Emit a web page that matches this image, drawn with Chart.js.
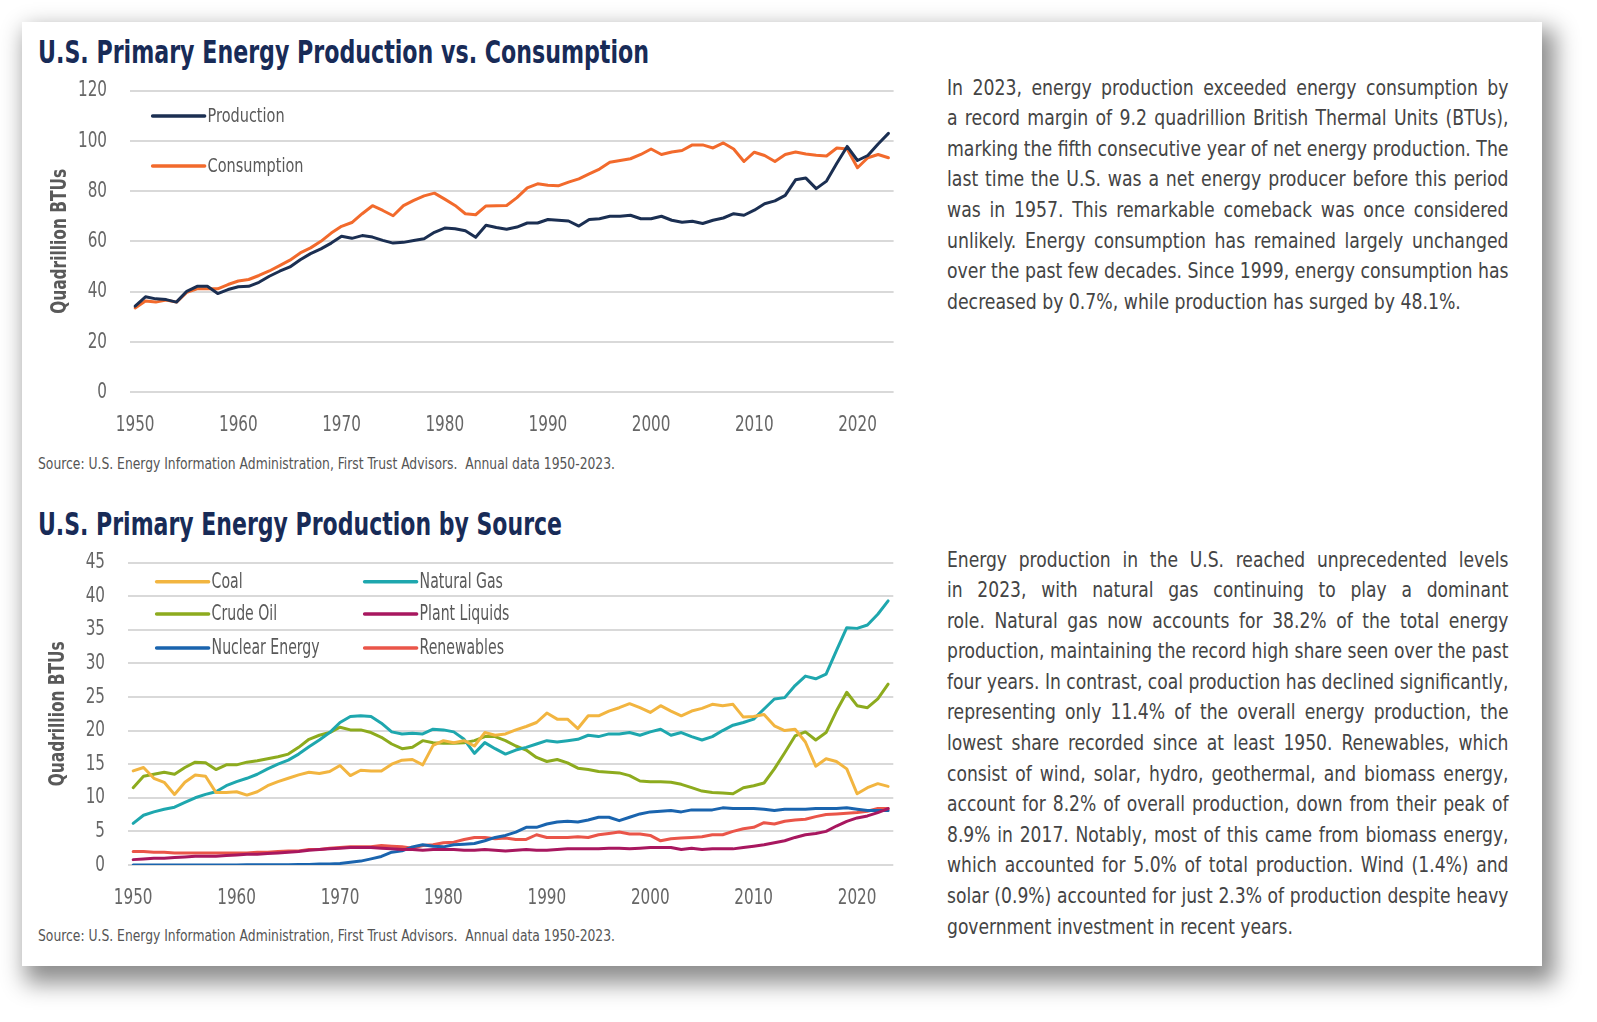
<!DOCTYPE html>
<html>
<head>
<meta charset="utf-8">
<title>U.S. Primary Energy Production</title>
<script src="https://cdn.jsdelivr.net/npm/chart.js@4.4.1/dist/chart.umd.min.js"></script>
<style>
  html, body { margin: 0; padding: 0; background: #fff; }
  body {
    width: 1597px; height: 1022px; position: relative; overflow: hidden;
    font-family: 'Liberation Sans Narrow', 'Arial Narrow', 'DejaVu Sans Condensed', 'Roboto Condensed', 'Open Sans', sans-serif;
    font-stretch: condensed;
  }
  .card {
    position: absolute; left: 22px; top: 22px; width: 1520px; height: 944px;
    background: #fff;
    box-shadow: 8px 12px 22px 5px rgba(0, 0, 0, 0.45);
  }
  .fit { position: absolute; white-space: nowrap; transform-origin: 0 0; }
  .title { font-size: 32px; line-height: 32px; font-weight: bold; color: #182b57; }
  .source { font-size: 15px; line-height: 15px; color: #555; }
  .para { position: absolute; color: #444; font-size: 22px; }
  .para .ln { height: 30.6px; line-height: 30.6px; white-space: nowrap; transform-origin: 0 0; }
  canvas { position: absolute; }
</style>
</head>
<body>
<div class="card"></div>

<span class="fit title" data-w="611" style="left:38px; top:35.6px">U.S. Primary Energy Production vs. Consumption</span>
<span class="fit source" data-w="577" style="left:38px; top:457.4px">Source: U.S. Energy Information Administration, First Trust Advisors.&nbsp; Annual data 1950-2023.</span>
<span class="fit title" data-w="524" style="left:38px; top:508.4px">U.S. Primary Energy Production by Source</span>
<span class="fit source" data-w="577" style="left:38px; top:929.2px">Source: U.S. Energy Information Administration, First Trust Advisors.&nbsp; Annual data 1950-2023.</span>

<div class="para" id="para1" style="left:947px; top:72.7px"></div>
<div class="para" id="para2" style="left:947px; top:544.5px"></div>

<canvas id="chartTotal" width="880" height="400" style="left:40.4px; top:60px"></canvas>
<canvas id="chartSource" width="880" height="400" style="left:38.4px; top:530px"></canvas>

<script>
// ---- Datos (quadrillion BTUs) ----
const years = Array.from({ length: 74 }, (_, i) => 1950 + i);

const production = [
  34.2, 37.9, 37.1, 36.8, 35.8, 40.1, 42.1, 42.1, 39.2, 40.8,
  41.9, 42.1, 43.7, 46.1, 48.1, 49.8, 52.7, 55.1, 57.0, 59.3,
  62.0, 61.2, 62.3, 61.7, 60.4, 59.3, 59.6, 60.3, 61.0, 63.6,
  65.3, 65.0, 64.2, 61.6, 66.4, 65.5, 64.8, 65.7, 67.3, 67.3,
  68.7, 68.4, 68.1, 66.1, 68.7, 69.0, 70.0, 70.0, 70.4, 69.0,
  69.0, 70.0, 68.4, 67.6, 68.0, 67.1, 68.4, 69.3, 71.0, 70.4,
  72.4, 75.0, 76.1, 78.3, 84.5, 85.2, 81.0, 84.0, 91.1, 97.8,
  92.2, 94.2, 98.8, 103.0
];
const consumption = [
  33.5, 36.2, 35.8, 36.6, 35.8, 39.7, 41.1, 41.1, 41.1, 42.8,
  44.2, 44.8, 46.4, 48.2, 50.3, 52.5, 55.4, 57.4, 60.0, 63.3,
  66.0, 67.5, 71.0, 74.2, 72.3, 70.2, 74.2, 76.3, 78.1, 79.2,
  76.8, 74.3, 71.0, 70.6, 74.1, 74.2, 74.3, 77.4, 81.3, 82.9,
  82.3, 82.1, 83.6, 84.9, 86.9, 88.8, 91.5, 92.2, 92.9, 94.6,
  96.8, 94.6, 95.6, 96.2, 98.4, 98.4, 97.2, 99.2, 96.8, 91.8,
  95.5, 94.2, 91.8, 94.6, 95.6, 94.8, 94.3, 94.0, 97.2, 96.8,
  89.3, 93.3, 94.6, 93.3
];

const coal = [
  14.0, 14.5, 12.9, 12.3, 10.5, 12.3, 13.4, 13.2, 10.8, 10.8,
  10.9, 10.4, 10.9, 11.8, 12.4, 12.9, 13.4, 13.8, 13.6, 13.9,
  14.8, 13.3, 14.1, 14.0, 14.0, 15.0, 15.6, 15.7, 14.9, 17.8,
  18.5, 18.2, 18.5, 17.7, 19.7, 19.3, 19.5, 20.1, 20.6, 21.2,
  22.6, 21.7, 21.7, 20.3, 22.2, 22.2, 22.9, 23.4, 24.0, 23.4,
  22.7, 23.7, 22.9, 22.2, 22.9, 23.3, 23.9, 23.7, 23.9, 22.0,
  22.1, 22.4, 20.7, 20.0, 20.2, 18.3, 14.7, 15.8, 15.4, 14.3,
  10.6, 11.5, 12.1, 11.7
];
const naturalGas = [
  6.2, 7.4, 7.9, 8.3, 8.6, 9.3, 10.0, 10.5, 10.9, 11.8,
  12.4, 12.9, 13.5, 14.3, 15.0, 15.6, 16.5, 17.6, 18.6, 19.7,
  21.2, 22.1, 22.2, 22.1, 21.1, 19.8, 19.5, 19.6, 19.5, 20.2,
  20.1, 19.8, 18.7, 16.6, 18.2, 17.3, 16.5, 17.1, 17.5, 18.0,
  18.5, 18.3, 18.5, 18.7, 19.3, 19.1, 19.5, 19.5, 19.7, 19.3,
  19.8, 20.2, 19.3, 19.7, 19.1, 18.6, 19.1, 20.0, 20.8, 21.2,
  21.7, 23.2, 24.7, 24.9, 26.7, 28.1, 27.7, 28.4, 31.9, 35.3,
  35.2, 35.7, 37.3, 39.3
];
const crudeOil = [
  11.5, 13.2, 13.5, 13.8, 13.5, 14.5, 15.3, 15.2, 14.2, 14.9,
  14.9, 15.3, 15.5, 15.8, 16.1, 16.5, 17.5, 18.7, 19.3, 19.7,
  20.5, 20.1, 20.1, 19.7, 19.0, 18.0, 17.3, 17.5, 18.5, 18.2,
  18.1, 18.1, 18.2, 18.5, 19.1, 19.1, 18.5, 17.7, 17.1, 16.0,
  15.4, 15.7, 15.2, 14.4, 14.2, 13.9, 13.8, 13.7, 13.3, 12.5,
  12.4, 12.4, 12.3, 12.0, 11.5, 11.0, 10.8, 10.7, 10.6, 11.5,
  11.8, 12.2, 14.3, 16.7, 19.2, 19.8, 18.6, 19.7, 22.9, 25.7,
  23.7, 23.4, 24.7, 26.9
];
const plantLiquids = [
  0.8, 0.9, 1.0, 1.0, 1.1, 1.2, 1.3, 1.3, 1.3, 1.4,
  1.5, 1.6, 1.6, 1.7, 1.8, 1.9, 2.0, 2.2, 2.3, 2.4,
  2.5, 2.6, 2.6, 2.6, 2.5, 2.4, 2.3, 2.3, 2.2, 2.3,
  2.3, 2.3, 2.2, 2.2, 2.3, 2.2, 2.1, 2.2, 2.3, 2.2,
  2.2, 2.3, 2.4, 2.4, 2.4, 2.4, 2.5, 2.5, 2.4, 2.5,
  2.6, 2.6, 2.6, 2.3, 2.5, 2.3, 2.4, 2.4, 2.4, 2.6,
  2.8, 3.0, 3.3, 3.6, 4.1, 4.5, 4.7, 5.0, 5.8, 6.5,
  7.0, 7.3, 7.8, 8.4
];
const nuclear = [
  0.0, 0.0, 0.0, 0.0, 0.0, 0.0, 0.0, 0.0, 0.0, 0.0,
  0.01, 0.02, 0.03, 0.04, 0.04, 0.04, 0.06, 0.09, 0.14, 0.15,
  0.24, 0.41, 0.58, 0.91, 1.27, 1.9, 2.1, 2.7, 3.0, 2.8,
  2.7, 3.0, 3.1, 3.2, 3.6, 4.1, 4.4, 4.9, 5.6, 5.6,
  6.1, 6.4, 6.5, 6.4, 6.7, 7.1, 7.1, 6.6, 7.1, 7.6,
  7.9, 8.0, 8.1, 7.9, 8.2, 8.2, 8.2, 8.5, 8.4, 8.4,
  8.4, 8.3, 8.1, 8.3, 8.3, 8.3, 8.4, 8.4, 8.4, 8.5,
  8.3, 8.1, 8.1, 8.1
];
const renewables = [
  2.0, 2.0, 1.9, 1.9, 1.8, 1.8, 1.8, 1.8, 1.8, 1.8,
  1.8, 1.8, 1.9, 1.9, 2.0, 2.1, 2.1, 2.3, 2.3, 2.5,
  2.6, 2.7, 2.7, 2.7, 2.9, 2.8, 2.7, 2.5, 2.9, 3.0,
  3.3, 3.4, 3.8, 4.1, 4.1, 3.9, 4.0, 3.8, 3.8, 4.5,
  4.1, 4.1, 4.1, 4.2, 4.1, 4.5, 4.7, 4.9, 4.6, 4.6,
  4.4, 3.6, 3.9, 4.0, 4.1, 4.2, 4.5, 4.5, 5.0, 5.4,
  5.6, 6.3, 6.1, 6.5, 6.7, 6.8, 7.2, 7.5, 7.6, 7.7,
  7.8, 8.0, 8.4, 8.4
];

const para1Lines = [
  'In 2023, energy production exceeded energy consumption by',
  'a record margin of 9.2 quadrillion British Thermal Units (BTUs),',
  'marking the fifth consecutive year of net energy production. The',
  'last time the U.S. was a net energy producer before this period',
  'was in 1957. This remarkable comeback was once considered',
  'unlikely. Energy consumption has remained largely unchanged',
  'over the past few decades. Since 1999, energy consumption has',
  'decreased by 0.7%, while production has surged by 48.1%.'
];
const para2Lines = [
  'Energy production in the U.S. reached unprecedented levels',
  'in 2023, with natural gas continuing to play a dominant',
  'role. Natural gas now accounts for 38.2% of the total energy',
  'production, maintaining the record high share seen over the past',
  'four years. In contrast, coal production has declined significantly,',
  'representing only 11.4% of the overall energy production, the',
  'lowest share recorded since at least 1950. Renewables, which',
  'consist of wind, solar, hydro, geothermal, and biomass energy,',
  'account for 8.2% of overall production, down from their peak of',
  '8.9% in 2017.  Notably, most of this came from biomass energy,',
  'which accounted for 5.0% of total production.  Wind (1.4%) and',
  'solar (0.9%) accounted for just 2.3% of production despite heavy',
  'government investment in recent years.'
];

const FONT = "'Liberation Sans Narrow', 'Arial Narrow', 'DejaVu Sans Condensed', 'Roboto Condensed', 'Open Sans', sans-serif";
const GRID = '#d9d9d9';
const TICK = '#666666';

// ---- Texto HTML: ajustar anchos como en el original ----
document.querySelectorAll('.fit').forEach(el => {
  const w = el.getBoundingClientRect().width;
  el.style.transform = `scaleX(${el.dataset.w / w})`;
});

function justifyLines(box, lines, width) {
  const rows = lines.map(text => {
    const row = document.createElement('div');
    row.className = 'ln';
    const span = document.createElement('span');
    span.textContent = text;
    row.appendChild(span);
    box.appendChild(row);
    return row;
  });
  const widths = rows.map(r => r.firstChild.getBoundingClientRect().width);
  const s = Math.min(...widths.slice(0, -1).map(w => width / w));
  rows.forEach((row, i) => {
    row.textContent = lines[i];
    row.style.width = (width / s) + 'px';
    row.style.transform = `scaleX(${s})`;
    row.style.textAlignLast = i < lines.length - 1 ? 'justify' : 'left';
    row.style.whiteSpace = 'normal';
  });
}
justifyLines(document.getElementById('para1'), para1Lines, 561.5);
justifyLines(document.getElementById('para2'), para2Lines, 561.5);

// texto estrecho (la fuente original es condensada)
function squeezedText(ctx, text, x, y, align, squeeze, rotate) {
  ctx.save();
  ctx.translate(x, y);
  if (rotate) ctx.rotate(rotate);
  ctx.scale(squeeze, 1);
  ctx.textAlign = align;
  ctx.textBaseline = 'middle';
  ctx.fillText(text, 0, 0);
  ctx.restore();
}

function squeezeFor(ctx, font, text, width) {
  ctx.font = font;
  return width / ctx.measureText(text).width;
}

// ---- Etiquetas de ejes dibujadas con las escalas de Chart.js ----
const axisLabels = {
  id: 'axisLabels',
  afterDraw(chart, args, opts) {
    const { ctx, chartArea, scales: { x, y } } = chart;
    ctx.save();
    ctx.fillStyle = TICK;
    const tickFont = `${opts.size}px ${FONT}`;
    const sq = squeezeFor(ctx, tickFont, '1950', opts.yearWidth);
    y.ticks.forEach((t, i) => {
      squeezedText(ctx, String(t.label), chartArea.left - 23, y.getPixelForTick(i), 'right', sq);
    });
    x.ticks.forEach((t, i) => {
      if (!t.label) return;
      squeezedText(ctx, String(t.label), x.getPixelForTick(i), chartArea.bottom + 33, 'center', sq);
    });
    // título del eje Y
    const titleFont = `bold ${opts.titleSize}px ${FONT}`;
    const tsq = squeezeFor(ctx, titleFont, opts.title, opts.titleWidth);
    ctx.fillStyle = '#595959';
    squeezedText(ctx, opts.title, chartArea.left - 69.4, (chartArea.top + chartArea.bottom) / 2,
      'center', tsq, -Math.PI / 2);
    ctx.restore();
  }
};

// ---- Leyenda dentro del área del gráfico ----
const inlineLegend = {
  id: 'inlineLegend',
  afterDraw(chart, args, opts) {
    const { ctx, chartArea } = chart;
    ctx.save();
    const font = `${opts.size}px ${FONT}`;
    const squeeze = squeezeFor(ctx, font, opts.refText, opts.refWidth);
    opts.items.forEach(item => {
      const ds = chart.data.datasets[item.index];
      const x = chartArea.left + item.x;
      const y = chartArea.top + item.y;
      ctx.strokeStyle = ds.borderColor;
      ctx.lineWidth = 3.5;
      ctx.lineCap = 'round';
      ctx.beginPath();
      ctx.moveTo(x, y);
      ctx.lineTo(x + opts.lineLength, y);
      ctx.stroke();
      ctx.fillStyle = '#595959';
      squeezedText(ctx, ds.label, x + opts.lineLength + 3, y + 1, 'left', squeeze);
    });
    ctx.restore();
  }
};

function lineSet(label, data, color) {
  return {
    label, data,
    borderColor: color,
    backgroundColor: color,
    borderWidth: 3,
    pointRadius: 0,
    pointHoverRadius: 0,
    tension: 0,
    borderJoinStyle: 'round',
    borderCapStyle: 'round',
    fill: false
  };
}

function baseOptions(yMax, yStep, padding, legendOpts) {
  return {
    responsive: false,
    animation: false,
    events: [],
    layout: { padding },
    plugins: {
      legend: { display: false },
      tooltip: { enabled: false },
      inlineLegend: legendOpts,
      axisLabels: {
        size: 22, yearWidth: 38.7,
        title: 'Quadrillion BTUs', titleSize: 21, titleWidth: 145
      }
    },
    scales: {
      x: {
        type: 'category',
        offset: true,
        grid: { display: false },
        border: { display: false },
        afterFit: (scale) => { scale.height = 40; },
        ticks: {
          display: false,
          autoSkip: false,
          callback: (value, index) => (years[index] % 10 === 0 ? String(years[index]) : '')
        }
      },
      y: {
        min: 0,
        max: yMax,
        grid: { color: GRID, lineWidth: 2, drawTicks: false },
        border: { display: false },
        afterFit: (scale) => { scale.width = 90; },
        ticks: { display: false, stepSize: yStep }
      }
    }
  };
}

// ---- Gráfico 1: producción vs consumo ----
new Chart(document.getElementById('chartTotal'), {
  type: 'line',
  data: {
    labels: years,
    datasets: [
      lineSet('Production', production, '#1b2f52'),
      lineSet('Consumption', consumption, '#f26a2c')
    ]
  },
  options: baseOptions(120, 20, { left: 0, right: 26.4, top: 30.7, bottom: 28 }, {
    size: 20, lineLength: 52, refText: 'Production', refWidth: 77,
    items: [
      { index: 0, x: 22.6, y: 25.3 },
      { index: 1, x: 22.6, y: 75.3 }
    ]
  }),
  plugins: [axisLabels, inlineLegend]
});

// ---- Gráfico 2: producción por fuente ----
new Chart(document.getElementById('chartSource'), {
  type: 'line',
  data: {
    labels: years,
    datasets: [
      lineSet('Coal', coal, '#f2b540'),
      lineSet('Natural Gas', naturalGas, '#1ea7ae'),
      lineSet('Crude Oil', crudeOil, '#8dab1e'),
      lineSet('Plant Liquids', plantLiquids, '#a8175f'),
      lineSet('Nuclear Energy', nuclear, '#1a64ae'),
      lineSet('Renewables', renewables, '#ea5549')
    ]
  },
  options: baseOptions(45, 5, { left: 0, right: 24.7, top: 32.5, bottom: 25 }, {
    size: 21, lineLength: 52, refText: 'Nuclear Energy', refWidth: 108,
    items: [
      { index: 0, x: 28.6, y: 19.2 },
      { index: 1, x: 236.6, y: 19.2 },
      { index: 2, x: 28.6, y: 51.5 },
      { index: 3, x: 236.6, y: 51.5 },
      { index: 4, x: 28.6, y: 85.5 },
      { index: 5, x: 236.6, y: 85.5 }
    ]
  }),
  plugins: [axisLabels, inlineLegend]
});
</script>
</body>
</html>
